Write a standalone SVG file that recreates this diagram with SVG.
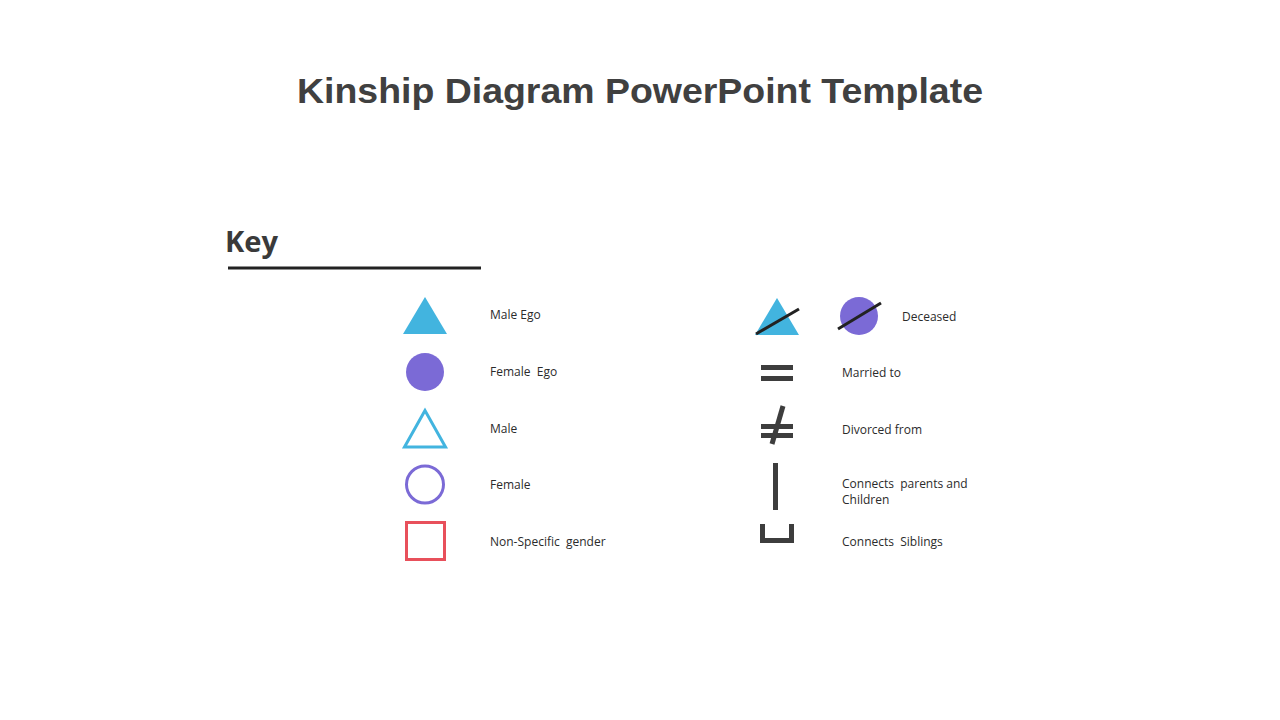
<svg xmlns="http://www.w3.org/2000/svg" width="1280" height="720" viewBox="0 0 1280 720">
<style>
.title{font-family:"Liberation Sans",Arial,sans-serif;font-weight:bold;font-size:35px;fill:#404040}
.key{font-family:"Open Sans","Noto Sans",sans-serif;font-weight:bold;font-size:28px;fill:#3a3a3a}
.lbl{font-family:"Open Sans","Noto Sans",sans-serif;font-size:12px;fill:#2b2b2b;white-space:pre}
.cyan{fill:#42B4DF}
.purple{fill:#7B6AD6}
.dark{fill:#3d3d3d}
.slash{stroke:#222;stroke-width:3;stroke-linecap:butt}
</style>
<rect width="1280" height="720" fill="#ffffff"/>
<text class="title" x="640" y="103" text-anchor="middle" textLength="686" lengthAdjust="spacingAndGlyphs">Kinship Diagram PowerPoint Template</text>
<g id="key-header">
<text class="key" x="225" y="252" textLength="53" lengthAdjust="spacingAndGlyphs">Key</text>
<line x1="228" y1="268" x2="481" y2="268" stroke="#222" stroke-width="3"/>
</g>
<g id="male-ego">
<polygon class="cyan" points="425,297 403,334 447,334"/>
<text class="lbl" x="490" y="319">Male Ego</text>
</g>
<g id="female-ego">
<circle class="purple" cx="425" cy="372" r="19"/>
<text class="lbl" x="490" y="376">Female  Ego</text>
</g>
<g id="male">
<polygon points="425,410.5 404.5,447 445.5,447" fill="none" stroke="#42B4DF" stroke-width="3"/>
<text class="lbl" x="490" y="433">Male</text>
</g>
<g id="female">
<circle cx="425" cy="484.5" r="18.5" fill="none" stroke="#7B6AD6" stroke-width="3"/>
<text class="lbl" x="490" y="489">Female</text>
</g>
<g id="non-specific">
<rect x="406.5" y="522.5" width="38" height="37" fill="none" stroke="#E8505B" stroke-width="3"/>
<text class="lbl" x="490" y="546">Non-Specific  gender</text>
</g>
<g id="deceased">
<polygon class="cyan" points="777,298 755,335 799,335"/>
<line class="slash" x1="756" y1="334" x2="799" y2="309"/>
<circle class="purple" cx="859" cy="316" r="19"/>
<line class="slash" x1="838" y1="329" x2="881" y2="303"/>
<text class="lbl" x="902" y="321">Deceased</text>
</g>
<g id="married">
<rect class="dark" x="761" y="365" width="32" height="5"/>
<rect class="dark" x="761" y="376" width="32" height="5"/>
<text class="lbl" x="842" y="377">Married to</text>
</g>
<g id="divorced">
<rect class="dark" x="761" y="424" width="32" height="5"/>
<rect class="dark" x="761" y="433" width="32" height="5"/>
<line x1="783" y1="406" x2="772" y2="444" stroke="#3d3d3d" stroke-width="5"/>
<text class="lbl" x="842" y="434">Divorced from</text>
</g>
<g id="connectors">
<g id="parent-child">
<rect class="dark" x="773" y="463" width="5" height="47"/>
</g>
<g id="siblings">
<path d="M762.5 524 V540.5 H791.5 V524" fill="none" stroke="#3d3d3d" stroke-width="5"/>
</g>
</g>
<text class="lbl" x="842" y="488">Connects  parents and</text>
<text class="lbl" x="842" y="504">Children</text>
<text class="lbl" x="842" y="546">Connects  Siblings</text>
</svg>
